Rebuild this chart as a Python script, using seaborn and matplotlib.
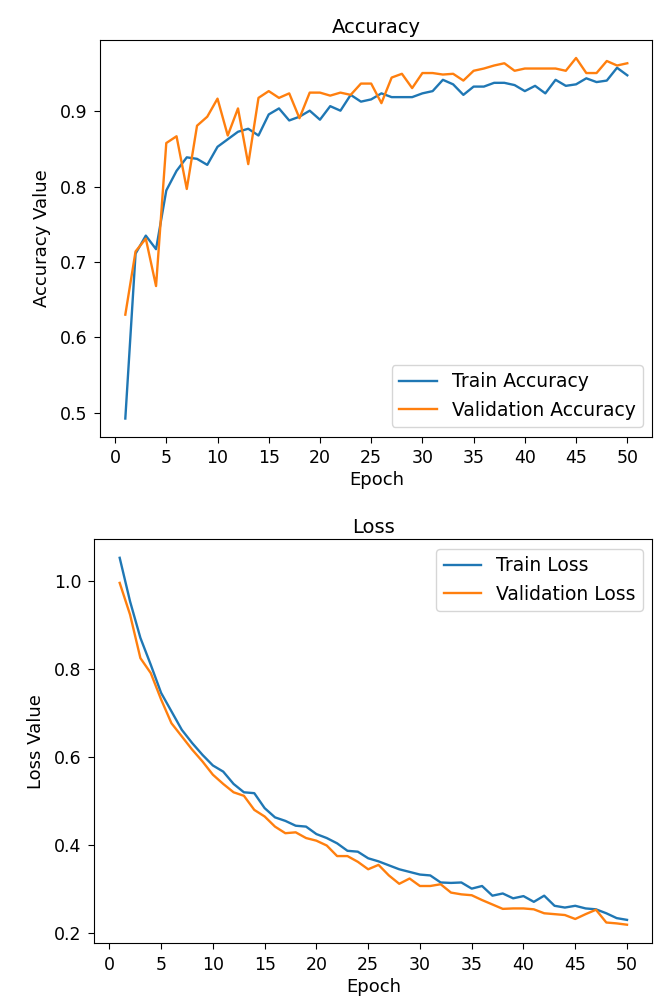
import numpy as np
import pandas as pd
import matplotlib
matplotlib.use("Agg")
import matplotlib.pyplot as plt
import seaborn as sns

# epochs 1..50
epochs = list(range(1, 51))

train_acc = [0.492, 0.711, 0.735, 0.717, 0.795, 0.821, 0.839, 0.837, 0.829, 0.853,
             0.863, 0.873, 0.877, 0.868, 0.896, 0.904, 0.888, 0.893, 0.901, 0.889,
             0.907, 0.901, 0.922, 0.913, 0.916, 0.924, 0.919, 0.919, 0.919, 0.924,
             0.927, 0.942, 0.936, 0.922, 0.933, 0.933, 0.938, 0.938, 0.935, 0.927,
             0.934, 0.924, 0.942, 0.934, 0.936, 0.944, 0.939, 0.941, 0.958, 0.948]

val_acc = [0.630, 0.714, 0.731, 0.668, 0.858, 0.867, 0.797, 0.881, 0.893, 0.917,
           0.868, 0.904, 0.830, 0.918, 0.927, 0.918, 0.924, 0.891, 0.925, 0.925,
           0.921, 0.925, 0.922, 0.937, 0.937, 0.911, 0.945, 0.950, 0.931, 0.951,
           0.951, 0.949, 0.950, 0.941, 0.954, 0.957, 0.961, 0.964, 0.954, 0.957,
           0.957, 0.957, 0.957, 0.954, 0.971, 0.951, 0.951, 0.967, 0.961, 0.964]

train_loss = [1.053, 0.954, 0.871, 0.810, 0.746, 0.704, 0.662, 0.632, 0.605, 0.581,
              0.567, 0.539, 0.520, 0.518, 0.484, 0.463, 0.455, 0.444, 0.442, 0.425,
              0.416, 0.404, 0.387, 0.385, 0.370, 0.363, 0.354, 0.345, 0.339, 0.333,
              0.331, 0.315, 0.314, 0.315, 0.301, 0.307, 0.285, 0.290, 0.279, 0.284,
              0.271, 0.285, 0.262, 0.258, 0.262, 0.256, 0.254, 0.245, 0.234, 0.230]

val_loss = [0.996, 0.924, 0.825, 0.791, 0.731, 0.677, 0.647, 0.617, 0.590, 0.560,
            0.539, 0.520, 0.512, 0.480, 0.465, 0.442, 0.427, 0.429, 0.416, 0.410,
            0.399, 0.375, 0.375, 0.362, 0.345, 0.355, 0.331, 0.312, 0.324, 0.307,
            0.307, 0.311, 0.292, 0.288, 0.286, 0.275, 0.265, 0.255, 0.256, 0.256,
            0.254, 0.245, 0.243, 0.241, 0.232, 0.243, 0.253, 0.224, 0.222, 0.219]

# plain matplotlib look, tab10 colours, slightly larger text
sns.set_palette("tab10")
plt.rcParams.update({
    'font.size': 13,
    'axes.titlesize': 14,
    'axes.labelsize': 13,
    'legend.fontsize': 13.5,
    'xtick.labelsize': 12.5,
    'ytick.labelsize': 12.5,
    'xtick.major.size': 4,
    'ytick.major.size': 4,
    'xtick.major.pad': 5,
    'ytick.major.pad': 5.5,
    'lines.linewidth': 1.7,
})

fig = plt.figure(figsize=(6.55, 9.99), dpi=100)
ax1 = fig.add_axes([0.153, 0.563, 0.843, 0.397])
ax2 = fig.add_axes([0.144, 0.056, 0.852, 0.404])

# Accuracy
sns.lineplot(x=epochs, y=train_acc, ax=ax1, label='Train Accuracy')
sns.lineplot(x=epochs, y=val_acc, ax=ax1, label='Validation Accuracy')
ax1.set_xticks(np.arange(0, 51, 5))
ax1.set_ylabel('Accuracy Value', labelpad=6)
ax1.set_xlabel('Epoch', labelpad=3)
ax1.set_title('Accuracy', pad=5)
ax1.legend(loc='lower right')

# Loss
sns.lineplot(x=epochs, y=train_loss, ax=ax2, label='Train Loss')
sns.lineplot(x=epochs, y=val_loss, ax=ax2, label='Validation Loss')
ax2.set_xticks(np.arange(0, 51, 5))
ax2.set_ylabel('Loss Value', labelpad=6)
ax2.set_xlabel('Epoch', labelpad=3)
ax2.set_title('Loss', pad=5)
ax2.legend(loc='upper right')

fig.savefig('out.png', dpi=100)
